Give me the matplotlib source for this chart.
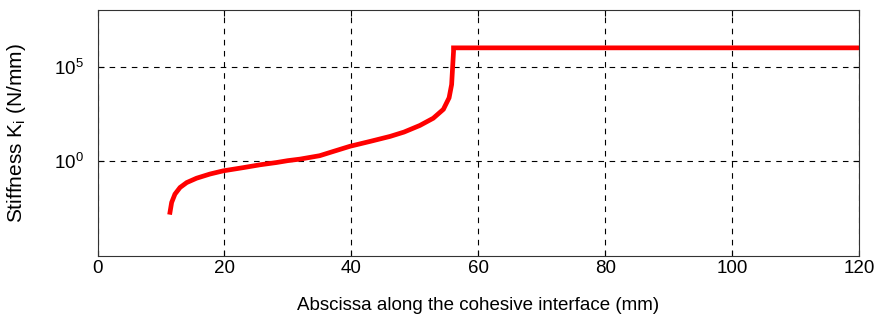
import matplotlib
matplotlib.use("Agg")
import matplotlib.pyplot as plt
from matplotlib.ticker import FixedLocator, NullLocator, LogFormatterMathtext

plt.rcParams["font.family"] = ["Liberation Sans", "DejaVu Sans"]
plt.rcParams["mathtext.fontset"] = "custom"
plt.rcParams["mathtext.rm"] = "Liberation Sans"
plt.rcParams["mathtext.it"] = "Liberation Sans"
plt.rcParams["mathtext.default"] = "regular"

# stiffness along the interface: log10 of K_i vs abscissa (mm)
abscissa = [11.42, 11.68, 12.2, 13.0, 14.05, 15.6, 17.7, 19.8, 22.96, 25.6, 28.2, 30.0,
            31.9, 35.0, 37.1, 39.8, 43.0, 46.1, 48.3, 50.8, 52.9, 54.5, 55.4, 55.8,
            55.95, 56.1, 56.1, 120.0]
log_stiffness = [-2.69, -2.17, -1.73, -1.38, -1.12, -0.89, -0.67, -0.5, -0.33, -0.18, -0.06, 0.04,
                 0.12, 0.3, 0.52, 0.8, 1.06, 1.32, 1.55, 1.9, 2.28, 2.75, 3.36, 4.06,
                 4.94, 5.8, 6.0, 6.0]
stiffness = [10 ** v for v in log_stiffness]

fig = plt.figure(figsize=(8.89, 3.28), dpi=100)
ax = fig.add_axes([0.1097, 0.2195, 0.8566, 0.75])
ax.plot(abscissa, stiffness, color="red", lw=3.4, solid_joinstyle="miter")
ax.set_yscale("log")
ax.set_xlim(0, 120)
ax.set_ylim(1e-5, 1e8)
ax.set_xticks(range(0, 121, 20))
ax.yaxis.set_major_locator(FixedLocator([1e0, 1e5]))
ax.yaxis.set_minor_locator(NullLocator())
ax.yaxis.set_major_formatter(LogFormatterMathtext())
ax.grid(True, color="black", linestyle=(0, (5, 5)), lw=0.8)
ax.tick_params(direction="in", top=True, right=True, length=4, labelsize=13.5)
ax.tick_params(axis="x", pad=3)
ax.tick_params(axis="y", pad=10)
for s in ax.spines.values():
    s.set_color("#333333")
ax.set_xlabel("Abscissa along the cohesive interface (mm)", fontsize=13.5)
ax.set_ylabel(r"Stiffness K$_\mathregular{i}$ (N/mm)", fontsize=15)
ax.xaxis.set_label_coords(0.5, -0.165)
ax.yaxis.set_label_coords(-0.091, 0.5)

fig.savefig("out.png", dpi=100)
